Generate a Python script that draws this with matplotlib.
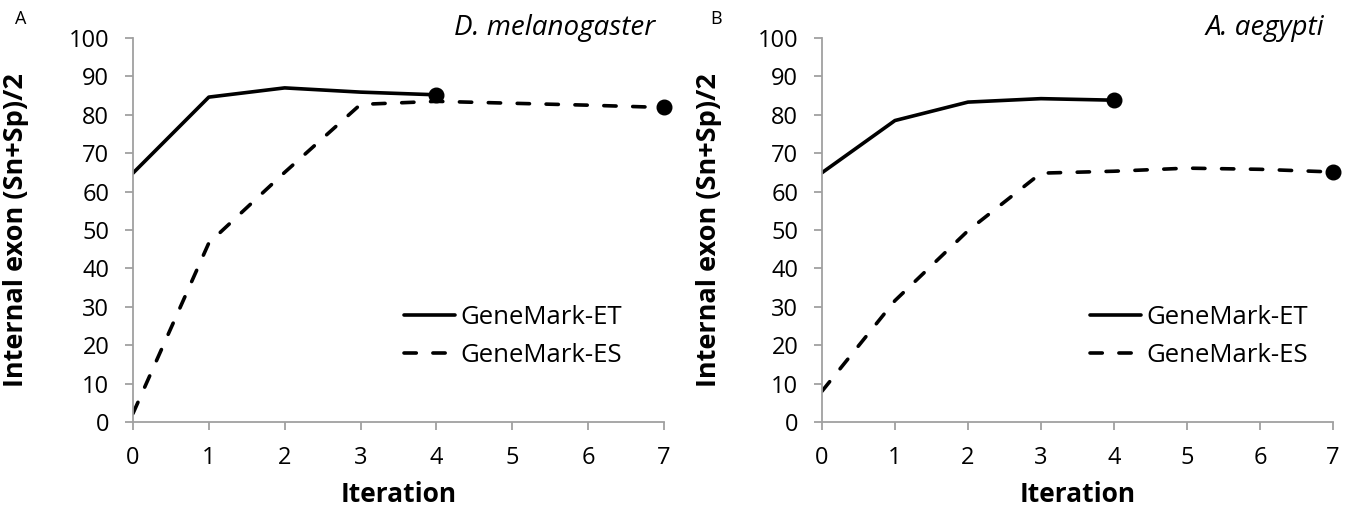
import matplotlib.pyplot as plt

plt.rcParams['font.family'] = ['Open Sans', 'DejaVu Sans']

iter_et = [0, 1, 2, 3, 4]
iter_es = [0, 1, 2, 3, 4, 5, 6, 7]

dm_et = [64.8, 84.6, 87.0, 85.9, 85.2]
dm_es = [2.2, 46.6, 65.0, 82.7, 83.5, 83.0, 82.5, 81.9]

aa_et = [64.9, 78.5, 83.3, 84.2, 83.8]
aa_es = [8.0, 31.6, 49.8, 64.8, 65.3, 66.1, 65.8, 65.1]

panels = [('A', 'D. melanogaster', dm_et, dm_es),
          ('B', 'A. aegypti', aa_et, aa_es)]

fig = plt.figure(figsize=(13.47, 5.07), dpi=100)
boxes = [[0.0987, 0.1677, 0.3942, 0.7574],
         [0.6102, 0.1677, 0.3794, 0.7574]]
letter_x = [0.011, 0.527]
legend_x = [0.51, 0.524]

for box, lx, legx, (letter, species, et, es) in zip(boxes, letter_x, legend_x, panels):
    ax = fig.add_axes(box)
    ax.plot(iter_et, et, color='black', linewidth=2.6, solid_capstyle='round',
            label='GeneMark-ET')
    ax.plot(iter_es, es, color='black', linewidth=2.6, dashes=(3.4, 4.6),
            dash_capstyle='round', label='GeneMark-ES')
    ax.plot(iter_et[-1], et[-1], 'o', color='black', markersize=10.5, clip_on=False)
    ax.plot(iter_es[-1], es[-1], 'o', color='black', markersize=10.5, clip_on=False)

    ax.set_xlim(0, 7)
    ax.set_ylim(0, 100)
    ax.set_xticks(range(8))
    ax.set_yticks(range(0, 101, 10))
    for side in ['top', 'right']:
        ax.spines[side].set_visible(False)
    for side in ['left', 'bottom']:
        ax.spines[side].set_color('#a0a0a0')
        ax.spines[side].set_linewidth(1.3)
    ax.tick_params(axis='both', direction='out', length=6, width=1.3,
                   color='#a0a0a0', labelsize=17, pad=11)

    ax.set_xlabel('Iteration', fontsize=19, fontweight='bold')
    ax.set_ylabel('Internal exon (Sn+Sp)/2', fontsize=19.5, fontweight='bold')
    ax.xaxis.set_label_coords(0.5, -0.155)
    ax.yaxis.set_label_coords(-0.195, 0.5)

    ax.text(0.983, 1.026, species, transform=ax.transAxes, fontsize=20,
            style='italic', ha='right', va='center')
    fig.text(lx, 0.962, letter, fontsize=13, ha='left', va='center')

    ax.legend(loc='upper left', bbox_to_anchor=(legx, 0.305), frameon=False,
              fontsize=18.5, handlelength=2.0, handletextpad=0.2,
              labelspacing=0.5, borderaxespad=0, borderpad=0)

fig.savefig('out.png', dpi=100)
